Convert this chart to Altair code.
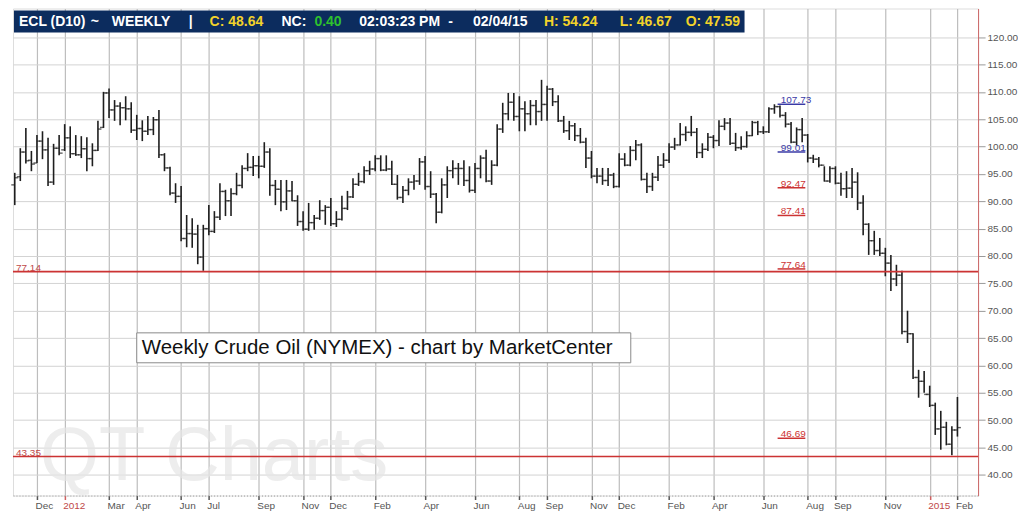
import altair as alt
import pandas as pd

# ---------------- data ----------------
FIRST_WEEK_END = "2011-11-04"   # week-ending Friday of the first weekly bar
N_WEEKS = 171

opens = [
    93.0, 94.5, 99.0, 97.5, 97.0, 101.0, 99.4, 93.5, 99.7, 99.4,
    101.6, 98.7, 98.5, 99.6, 97.8, 99.3, 103.5, 109.8, 106.7, 107.4,
    107.1, 106.9, 103.0, 103.3, 102.8, 103.1, 104.9, 98.5, 96.1, 91.5,
    90.9, 83.2, 84.1, 84.0, 79.8, 85.0, 84.5, 87.1, 91.8, 90.1,
    91.4, 92.9, 96.0, 96.2, 96.5, 96.4, 99.0, 92.9, 92.2, 89.9,
    91.9, 90.1, 86.3, 84.9, 86.1, 86.9, 88.3, 88.9, 85.9, 86.7,
    88.7, 90.8, 93.1, 93.6, 95.6, 95.9, 97.8, 95.7, 95.9, 93.1,
    90.7, 92.0, 93.5, 93.7, 97.2, 92.7, 91.3, 88.0, 93.0, 95.6,
    96.0, 96.0, 93.8, 92.0, 96.0, 97.9, 93.7, 96.6, 103.2, 106.0,
    108.1, 105.5, 106.9, 106.0, 107.5, 106.4, 107.7, 110.5, 108.2, 104.7,
    102.9, 103.8, 102.0, 100.8, 97.9, 94.6, 94.6, 93.8, 94.8, 92.7,
    97.7, 96.6, 99.3, 100.3, 94.0, 92.7, 94.4, 96.6, 97.5, 99.9,
    100.3, 102.2, 102.6, 102.6, 98.9, 99.5, 101.7, 101.1, 103.7, 104.3,
    100.6, 99.8, 100.0, 102.0, 104.4, 102.7, 102.7, 106.9, 107.3, 105.7,
    104.1, 100.8, 103.1, 102.1, 97.9, 97.7, 96.6, 93.7, 96.0, 93.3,
    92.3, 92.4, 93.5, 89.7, 85.8, 82.8, 81.0, 80.5, 78.7, 75.8,
    76.5, 66.2, 65.8, 57.8, 57.1, 54.7, 52.7, 48.4, 48.7, 45.6,
    48.2,
]
highs = [
    95.2, 99.7, 103.4, 99.2, 102.1, 102.8, 101.6, 100.5, 102.1, 104.1,
    103.7, 102.1, 101.9, 101.7, 100.6, 104.7, 110.0, 110.6, 108.5, 108.1,
    109.2, 108.1, 105.8, 104.8, 105.6, 105.4, 106.7, 98.8, 96.3, 93.3,
    92.8, 87.5, 86.9, 85.7, 85.7, 89.3, 88.2, 93.3, 92.1, 92.4,
    95.2, 96.6, 98.8, 98.3, 98.3, 100.8, 99.7, 93.9, 93.9, 93.9,
    93.7, 91.1, 88.2, 89.7, 87.5, 90.2, 89.3, 90.6, 88.2, 91.0,
    91.9, 94.2, 95.2, 96.4, 97.4, 98.4, 98.4, 98.4, 97.4, 94.8,
    92.8, 94.2, 94.8, 97.9, 98.3, 95.5, 91.5, 94.2, 96.4, 97.5,
    97.0, 97.5, 96.4, 97.0, 98.4, 99.4, 97.5, 104.1, 108.0, 109.8,
    109.8, 109.2, 108.3, 108.5, 108.5, 112.2, 111.1, 110.7, 109.4, 105.6,
    104.7, 104.3, 103.4, 101.6, 99.2, 96.1, 96.1, 96.1, 95.2, 98.8,
    98.8, 100.1, 101.2, 100.6, 95.2, 95.2, 98.3, 98.8, 100.6, 101.6,
    104.3, 103.7, 105.6, 103.4, 100.6, 102.5, 102.1, 104.8, 105.2, 105.2,
    102.5, 101.9, 102.8, 104.7, 104.7, 103.7, 107.2, 107.73, 107.5, 106.3,
    104.5, 103.5, 105.2, 102.3, 98.5, 98.1, 96.4, 96.4, 96.4, 95.2,
    95.5, 96.1, 95.3, 91.1, 86.0, 84.6, 83.3, 81.5, 80.2, 78.4,
    77.3, 70.0, 65.9, 59.2, 59.0, 56.3, 53.2, 51.7, 49.7, 48.9,
    54.24,
]
lows = [
    89.3, 93.7, 96.9, 95.5, 97.0, 97.7, 92.8, 93.0, 98.4, 99.2,
    97.9, 98.3, 97.9, 95.5, 96.4, 99.2, 103.4, 105.2, 104.7, 103.9,
    104.8, 102.5, 101.2, 101.0, 102.1, 102.1, 97.9, 95.5, 91.1, 89.7,
    82.7, 81.6, 81.5, 78.5, 77.3, 83.8, 84.2, 86.6, 87.3, 87.3,
    91.1, 92.4, 95.5, 94.6, 94.2, 96.1, 91.0, 89.3, 88.2, 88.4,
    90.0, 85.5, 84.6, 84.6, 84.8, 86.6, 85.7, 85.5, 85.3, 86.5,
    88.4, 90.6, 92.8, 93.3, 94.8, 95.5, 95.5, 95.5, 93.0, 90.3,
    89.7, 91.1, 92.1, 93.0, 92.1, 90.6, 86.0, 87.8, 90.6, 94.2,
    93.0, 92.8, 91.6, 91.5, 94.2, 93.5, 93.0, 96.4, 102.5, 104.8,
    104.7, 102.8, 102.8, 103.9, 103.9, 104.7, 104.7, 107.4, 104.5, 102.5,
    101.2, 101.0, 100.6, 96.1, 94.2, 93.3, 93.0, 92.8, 92.4, 92.5,
    96.4, 96.4, 97.5, 93.8, 91.5, 91.9, 93.7, 96.1, 97.0, 99.4,
    100.2, 101.0, 101.9, 97.9, 97.9, 99.2, 99.7, 100.1, 103.0, 100.3,
    99.2, 99.4, 99.8, 101.9, 102.1, 102.3, 102.5, 106.0, 105.3, 103.5,
    100.6, 100.2, 100.8, 97.1, 97.0, 96.2, 93.6, 93.4, 93.1, 91.0,
    90.6, 90.6, 88.4, 83.8, 80.2, 80.2, 80.0, 76.3, 73.6, 74.5,
    65.7, 64.1, 57.5, 54.1, 55.0, 52.4, 47.3, 44.6, 45.4, 43.6,
    47.0,
]
closes = [
    94.3, 99.0, 97.4, 96.8, 101.0, 99.4, 93.5, 99.7, 98.8, 101.6,
    98.7, 98.5, 99.6, 97.8, 99.3, 103.2, 109.8, 106.7, 107.4, 107.1,
    106.9, 103.0, 103.3, 102.8, 103.1, 104.9, 98.5, 96.1, 91.5, 90.9,
    83.2, 84.1, 84.0, 79.8, 85.0, 84.5, 87.1, 91.8, 90.1, 91.4,
    92.9, 96.0, 96.2, 96.5, 96.4, 99.0, 92.9, 92.2, 89.9, 91.9,
    90.1, 86.3, 84.9, 86.1, 86.9, 88.3, 88.9, 85.9, 86.7, 88.7,
    90.8, 93.1, 93.6, 95.6, 95.9, 97.8, 95.7, 95.9, 93.1, 90.7,
    92.0, 93.5, 93.7, 97.2, 92.7, 91.3, 88.0, 93.0, 95.6, 96.0,
    96.0, 93.8, 92.0, 96.0, 97.9, 93.7, 96.6, 103.2, 106.0, 108.1,
    105.5, 106.9, 106.0, 107.5, 106.4, 107.7, 110.5, 108.2, 104.7, 102.9,
    103.8, 102.0, 100.8, 97.9, 94.6, 94.6, 93.8, 94.8, 92.7, 97.7,
    96.6, 99.3, 100.3, 94.0, 92.7, 94.4, 96.6, 97.5, 99.9, 100.3,
    102.2, 102.6, 102.6, 98.9, 99.5, 101.7, 101.1, 103.7, 104.3, 100.6,
    99.8, 100.0, 102.0, 104.4, 102.7, 102.7, 106.9, 107.3, 105.7, 104.1,
    100.8, 103.1, 102.1, 97.9, 97.7, 96.6, 93.7, 96.0, 93.3, 92.3,
    92.4, 93.5, 89.7, 85.8, 82.8, 81.0, 80.5, 78.7, 75.8, 76.5,
    66.2, 65.8, 57.8, 57.1, 54.7, 52.7, 48.4, 48.7, 45.6, 48.2,
    48.64,
]

# x-axis labelled ticks (first weekly bar of those months)
TICK_DATES = [
    (2011, 12, 2), (2012, 1, 6), (2012, 3, 2), (2012, 4, 6), (2012, 6, 1),
    (2012, 7, 6), (2012, 9, 7), (2012, 11, 2), (2012, 12, 7), (2013, 2, 1),
    (2013, 4, 5), (2013, 6, 7), (2013, 8, 2), (2013, 9, 6), (2013, 11, 1),
    (2013, 12, 6), (2014, 2, 7), (2014, 4, 4), (2014, 6, 6), (2014, 8, 1),
    (2014, 9, 5), (2014, 11, 7), (2015, 1, 2), (2015, 2, 6),
]
Y_TICKS = list(range(40, 121, 5))

SUPPORT_LEVELS = [77.14, 43.35]
FIB_LEVELS = [107.73, 99.01, 92.47, 87.41, 77.64, 46.69]
FIB_GROUP = ["upper", "upper", "lower", "lower", "lower", "lower"]
FIB_START = "2014-06-24"
FIB_END = "2014-07-29"
FIB_LABEL_AT = "2014-06-28"

HEADER = [
    ("ECL (D10)", "w"), ("~", "w"), ("WEEKLY", "w"), ("|", "w"),
    ("C: 48.64", "y"), ("NC:", "w"), ("0.40", "g"), ("02:03:23 PM", "w"),
    ("-", "w"), ("02/04/15", "w"), ("H: 54.24", "y"), ("L: 46.67", "y"),
    ("O: 47.59", "y"),
]
TITLE_TEXT = "Weekly Crude Oil (NYMEX) - chart by MarketCenter"
WATERMARK = "QT Charts"

# ---------------- layout / style ----------------
FONT = "Liberation Sans"
HEADER_X = [6, 78, 99, 176, 197, 269, 302, 347, 436, 461, 532, 608, 674]
HEADER_COL = {"w": "#ffffff", "y": "#f2d22a", "g": "#2ec02e"}
BAR_COL = "#1e1e1e"
RED = "#cc3333"
BLUE = "#3a3aa6"

dates = pd.date_range(start=FIRST_WEEK_END, periods=N_WEEKS, freq="7D")
df = pd.DataFrame({
    "date": dates.strftime("%Y-%m-%dT00:00:00"),
    "open": opens, "high": highs, "low": lows, "close": closes,
})

x_scale = alt.Scale(
    domain=[alt.DateTime(year=2011, month=11, date=1, hours=18, minutes=15),
            alt.DateTime(year=2015, month=3, date=4, hours=2)],
    nice=False,
)
y_scale = alt.Scale(domain=[36.224, 125.235], nice=False, zero=False)

is_year = "month(datum.value) == 0"
x_axis = alt.Axis(
    values=[alt.DateTime(year=y, month=m, date=d) for (y, m, d) in TICK_DATES],
    labelExpr=f"{is_year} ? timeFormat(datum.value, '%Y') : timeFormat(datum.value, '%b')",
    labelColor={"condition": {"test": is_year, "value": "#c04848"}, "value": "#555555"},
    tickColor={"condition": {"test": is_year, "value": "#d06060"}, "value": "#555555"},
    labelAlign="left", labelOffset=-2, labelFontSize=10, labelFont=FONT,
    labelPadding=1, labelOverlap=False, labelFlush=False,
    tickSize=4, tickWidth=1.5,
    domainColor="#9a9a9a", domainDash=[1, 2], domainWidth=1,
    grid=True, gridColor="#bdbdbd", gridWidth=1.2,
    title=None,
)
y_axis = alt.Axis(
    orient="right", values=Y_TICKS, format=".2f",
    labelFontSize=10, labelFont=FONT, labelColor="#555555", labelPadding=2,
    tickColor="#9a9a9a", tickSize=7,
    domainColor="#cc6666", domainWidth=1,
    grid=True, gridColor="#d3d3d3", gridWidth=1,
    title=None,
)


def X(field, main=False):
    if main:
        return alt.X(field, type="temporal", scale=x_scale, axis=x_axis)
    return alt.X(field, type="temporal", axis=None)


def Y(field, main=False):
    if main:
        return alt.Y(field, type="quantitative", scale=y_scale, axis=y_axis)
    return alt.Y(field, type="quantitative", axis=None)


one = pd.DataFrame({"k": [0]})

watermark = alt.Chart(one).mark_text(
    text=WATERMARK, font=FONT, fontSize=76, color="#e6e6e6", opacity=0.7,
    align="left", baseline="alphabetic",
).encode(x=alt.value(27), y=alt.value(472))

base = alt.Chart(df)
hilo = base.mark_rule(color=BAR_COL, strokeWidth=1.6).encode(
    x=X("date", True), y=Y("low", True), y2="high:Q",
)
open_tick = base.mark_tick(
    orient="horizontal", size=3.5, thickness=1.4, color=BAR_COL, xOffset=-1.75
).encode(x=X("date"), y=Y("open"))
close_tick = base.mark_tick(
    orient="horizontal", size=3.5, thickness=1.4, color=BAR_COL, xOffset=1.75
).encode(x=X("date"), y=Y("close"))

sup_df = pd.DataFrame({"level": SUPPORT_LEVELS,
                       "label": [f"{v:.2f}" for v in SUPPORT_LEVELS]})
sup_lines = alt.Chart(sup_df).mark_rule(color=RED, strokeWidth=1.6).encode(
    y=Y("level"))
sup_labels = alt.Chart(sup_df).mark_text(
    align="left", baseline="alphabetic", dy=-1, font=FONT, fontSize=10, color="#c04848"
).encode(x=alt.value(3), y=Y("level"), text="label:N")

fib_df = pd.DataFrame({
    "level": FIB_LEVELS, "group": FIB_GROUP,
    "label": [f"{v:.2f}" for v in FIB_LEVELS],
    "start": FIB_START, "end": FIB_END, "lab": FIB_LABEL_AT,
})
fib_color = alt.Color("group:N", scale=alt.Scale(domain=["upper", "lower"], range=[BLUE, RED]),
                      legend=None)
fib_lines = alt.Chart(fib_df).mark_rule(strokeWidth=1.5).encode(
    x=X("start"), x2="end:T", y=Y("level"), color=fib_color)
fib_labels = alt.Chart(fib_df).mark_text(
    align="left", baseline="alphabetic", dy=-1, font=FONT, fontSize=10
).encode(x=X("lab"), y=Y("level"), text="label:N", color=fib_color)

title_box = alt.Chart(one).mark_rect(fill="white", stroke="#8a8a8a", strokeWidth=1).encode(
    x=alt.value(124), x2=alt.value(619), y=alt.value(325), y2=alt.value(355))
title_text = alt.Chart(one).mark_text(
    text=TITLE_TEXT, font=FONT, fontSize=20.5, color="#111111",
    align="left", baseline="middle",
).encode(x=alt.value(129), y=alt.value(340))

header_box = alt.Chart(one).mark_rect(fill="#0c2c5e").encode(
    x=alt.value(1), x2=alt.value(733), y=alt.value(2), y2=alt.value(24))
header_texts = [
    alt.Chart(one).mark_text(
        text=txt, font=FONT, fontSize=14, fontWeight="bold",
        color=HEADER_COL[c], align="left", baseline="middle",
    ).encode(x=alt.value(hx), y=alt.value(13.5))
    for (txt, c), hx in zip(HEADER, HEADER_X)
]

chart = alt.layer(
    hilo, watermark, sup_lines, sup_labels, fib_lines, fib_labels,
    open_tick, close_tick,
    title_box, title_text, header_box, *header_texts,
).resolve_axis(
    x="independent", y="independent"
).properties(
    width=967, height=488,
    padding={"left": 3, "top": 0, "right": 0, "bottom": 0},
    background="white",
).configure_view(strokeWidth=0, stroke="transparent").configure(font=FONT)

chart.save("out.html", embed_options={"renderer": "svg", "actions": False})
